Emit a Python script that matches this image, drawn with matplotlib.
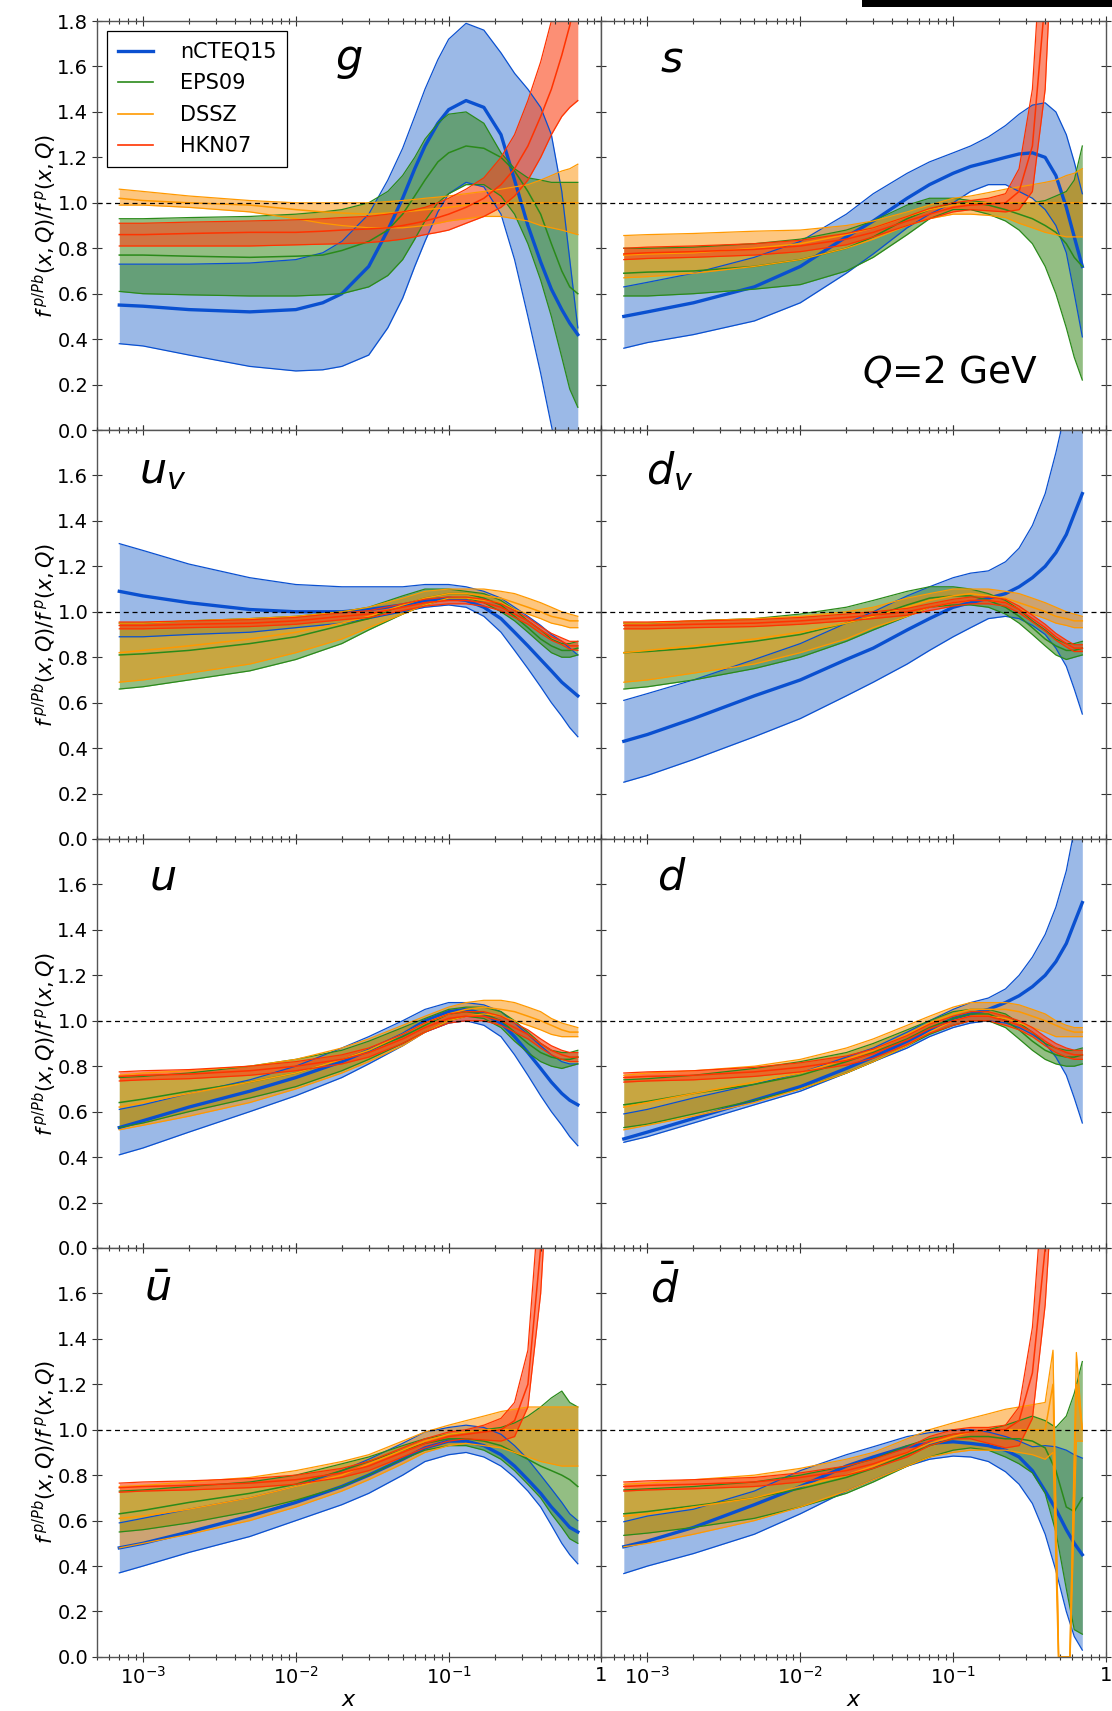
import numpy as np
import matplotlib
matplotlib.use("Agg")
import matplotlib.pyplot as plt
from matplotlib.lines import Line2D
from matplotlib.patches import Rectangle

# --- common x grid ---
X = [7e-4, 1e-3, 2e-3, 5e-3, 1e-2, 2e-2, 3e-2, 5e-2, 7e-2, 0.1,
     0.13, 0.17, 0.22, 0.27, 0.33, 0.4, 0.47, 0.55, 0.62, 0.7]
# the gluon rises steeply, so it gets a finer grid
X_G = [7e-4, 1e-3, 2e-3, 5e-3, 1e-2, 1.5e-2, 2e-2, 3e-2, 4e-2, 5e-2, 6e-2, 7e-2,
       0.085, 0.1, 0.13, 0.17, 0.22, 0.27, 0.33, 0.4, 0.47, 0.55, 0.62, 0.7]
# DSSZ dbar has the jagged high-x part, so it gets its own grid
X_DB_DSSZ = [7e-4, 1e-3, 2e-3, 5e-3, 1e-2, 2e-2, 3e-2, 5e-2, 7e-2, 0.1,
             0.13, 0.17, 0.22, 0.27, 0.33, 0.4, 0.45, 0.49, 0.58, 0.64, 0.7]

# --- g ---
g_ncteq_mid = [.55, .545, .53, .52, .53, .56, .6, .72, .88, 1.02, 1.15, 1.25, 1.35, 1.41, 1.45, 1.42, 1.3, 1.1, .9, .74, .62, .53, .47, .42]
g_ncteq_hi = [.73, .73, .73, .735, .75, .78, .83, .95, 1.1, 1.24, 1.38, 1.5, 1.63, 1.72, 1.79, 1.76, 1.66, 1.57, 1.5, 1.42, 1.3, 1.05, .75, .45]
g_ncteq_lo = [.38, .37, .33, .28, .26, .265, .28, .33, .45, .58, .72, .83, .96, 1.04, 1.09, 1.07, .95, .75, .5, .25, .02, -.2, -.35, -.5]
g_eps_mid = [.77, .77, .765, .76, .765, .77, .79, .83, .88, .95, 1.03, 1.1, 1.18, 1.22, 1.25, 1.24, 1.2, 1.14, 1.05, .95, .82, .7, .63, .6]
g_eps_hi = [.93, .93, .935, .94, .95, .96, .97, 1.0, 1.05, 1.12, 1.2, 1.28, 1.35, 1.39, 1.40, 1.35, 1.22, 1.15, 1.11, 1.1, 1.09, 1.09, 1.09, 1.09]
g_eps_lo = [.61, .60, .595, .59, .59, .595, .60, .63, .68, .75, .84, .92, 1.0, 1.04, 1.08, 1.08, 1.03, .95, .82, .66, .5, .32, .18, .1]
g_dssz_mid = [1.02, 1.01, 1.0, .99, .97, .96, .955, .95, .955, .96, .965, .97, .975, .98, .99, 1.0, 1.0, 1.0, 1.0, 1.0, 1.0, 1.0, 1.0, 1.0]
g_dssz_hi = [1.06, 1.05, 1.03, 1.01, 1.0, 1.0, 1.0, 1.0, 1.005, 1.01, 1.015, 1.02, 1.025, 1.03, 1.04, 1.05, 1.06, 1.07, 1.08, 1.1, 1.12, 1.14, 1.15, 1.17]
g_dssz_lo = [.99, .99, .98, .96, .93, .91, .9, .89, .89, .89, .895, .9, .91, .92, .93, .94, .94, .93, .92, .9, .89, .88, .87, .86]
g_hkn_mid = [.86, .86, .865, .87, .87, .875, .88, .885, .89, .9, .91, .92, .935, .95, .98, 1.02, 1.08, 1.15, 1.25, 1.38, 1.5, 1.65, 1.78, 1.95]
g_hkn_hi = [.91, .91, .915, .92, .925, .93, .935, .94, .95, .96, .97, .98, 1.0, 1.02, 1.06, 1.11, 1.2, 1.3, 1.45, 1.62, 1.8, 2.0, 2.2, 2.4]
g_hkn_lo = [.81, .81, .81, .81, .815, .818, .82, .825, .832, .84, .85, .86, .87, .88, .91, .94, .98, 1.03, 1.1, 1.2, 1.3, 1.38, 1.42, 1.45]

# --- s ---
s_ncteq_mid = [.50, .52, .56, .63, .72, .85, .92, 1.02, 1.08, 1.13, 1.16, 1.18, 1.20, 1.215, 1.22, 1.2, 1.12, .98, .85, .72]
s_ncteq_hi = [.63, .65, .69, .76, .83, .95, 1.04, 1.13, 1.18, 1.22, 1.25, 1.29, 1.34, 1.39, 1.43, 1.44, 1.4, 1.3, 1.18, 1.04]
s_ncteq_lo = [.36, .385, .42, .48, .56, .69, .775, .89, .95, 1.0, 1.05, 1.08, 1.08, 1.05, 1.02, .97, .9, .78, .6, .41]
s_eps_mid = [.69, .695, .70, .72, .75, .80, .85, .93, .97, 1.0, 1.0, .99, .97, .95, .93, .9, .87, .82, .76, .72]
s_eps_hi = [.80, .80, .805, .82, .84, .88, .92, .99, 1.02, 1.02, 1.01, 1.0, 1.0, 1.0, 1.0, 1.01, 1.03, 1.05, 1.1, 1.25]
s_eps_lo = [.59, .59, .6, .62, .64, .7, .76, .86, .93, .97, .97, .95, .92, .88, .82, .72, .6, .45, .32, .22]
s_dssz_mid = [.77, .775, .78, .80, .82, .86, .89, .94, .97, .99, 1.0, 1.0, 1.0, 1.0, 1.0, 1.0, 1.0, 1.0, 1.0, 1.0]
s_dssz_hi = [.856, .86, .865, .875, .88, .9, .92, .96, .99, 1.02, 1.03, 1.045, 1.06, 1.07, 1.08, 1.09, 1.1, 1.12, 1.13, 1.15]
s_dssz_lo = [.67, .675, .69, .72, .75, .8, .84, .9, .93, .95, .95, .945, .935, .91, .89, .87, .86, .85, .85, .85]
s_hkn_mid = [.775, .78, .785, .795, .81, .84, .87, .92, .95, .98, .99, .995, 1.0, 1.05, 1.25, 1.9, 2.6, 3, 3, 3]
s_hkn_hi = [.80, .805, .81, .82, .835, .865, .89, .94, .975, 1.0, 1.01, 1.02, 1.04, 1.15, 1.5, 2.4, 3, 3, 3, 3]
s_hkn_lo = [.75, .755, .76, .77, .785, .815, .85, .9, .93, .96, .97, .965, .96, .97, 1.05, 1.5, 2.5, 3, 3, 3]

# --- u_v ---
uv_ncteq_mid = [1.09, 1.07, 1.04, 1.01, 1.0, 1.0, 1.01, 1.03, 1.05, 1.06, 1.05, 1.02, .97, .91, .85, .79, .74, .69, .66, .63]
uv_ncteq_hi = [1.30, 1.27, 1.21, 1.15, 1.12, 1.11, 1.11, 1.11, 1.12, 1.12, 1.11, 1.09, 1.06, 1.02, .98, .94, .90, .87, .84, .81]
uv_ncteq_lo = [.89, .89, .9, .91, .93, .95, .97, 1.0, 1.02, 1.03, 1.02, .98, .91, .83, .75, .67, .6, .54, .49, .45]
uv_eps_mid = [.81, .815, .83, .86, .89, .94, .97, 1.03, 1.06, 1.08, 1.08, 1.06, 1.03, .98, .93, .88, .85, .83, .83, .84]
uv_eps_hi = [.95, .95, .96, .97, .98, 1.0, 1.02, 1.07, 1.1, 1.1, 1.09, 1.08, 1.05, 1.01, .96, .92, .88, .86, .86, .87]
uv_eps_lo = [.66, .67, .7, .74, .79, .86, .92, .99, 1.03, 1.06, 1.06, 1.04, 1.0, .96, .91, .86, .82, .8, .8, .81]
uv_dssz_mid = [.82, .83, .85, .88, .91, .95, .98, 1.03, 1.06, 1.08, 1.08, 1.07, 1.06, 1.04, 1.02, 1.0, .98, .97, .96, .96]
uv_dssz_hi = [.95, .95, .96, .97, .98, 1.0, 1.02, 1.06, 1.09, 1.1, 1.1, 1.1, 1.09, 1.08, 1.06, 1.04, 1.02, 1.0, .99, .98]
uv_dssz_lo = [.69, .7, .73, .77, .82, .88, .93, .99, 1.03, 1.06, 1.06, 1.05, 1.04, 1.01, .99, .97, .95, .94, .93, .93]
uv_hkn_mid = [.94, .94, .945, .95, .96, .98, .99, 1.02, 1.04, 1.05, 1.05, 1.04, 1.02, .99, .96, .92, .89, .87, .85, .85]
uv_hkn_hi = [.955, .955, .96, .965, .975, .995, 1.005, 1.035, 1.055, 1.065, 1.065, 1.055, 1.035, 1.005, .975, .935, .905, .885, .87, .87]
uv_hkn_lo = [.925, .925, .93, .935, .945, .965, .975, 1.005, 1.025, 1.035, 1.035, 1.025, 1.005, .975, .945, .905, .875, .855, .835, .83]

# --- d_v ---
dv_ncteq_mid = [.43, .46, .53, .63, .70, .79, .84, .92, .97, 1.02, 1.04, 1.06, 1.08, 1.11, 1.15, 1.2, 1.26, 1.34, 1.43, 1.52]
dv_ncteq_hi = [.61, .64, .7, .79, .86, .95, 1.0, 1.07, 1.11, 1.15, 1.17, 1.18, 1.22, 1.28, 1.38, 1.52, 1.7, 1.9, 2.1, 2.3]
dv_ncteq_lo = [.25, .28, .35, .45, .53, .63, .69, .77, .83, .89, .93, .97, .98, .97, .94, .9, .84, .76, .66, .55]
dv_eps_mid = [.82, .825, .84, .87, .9, .95, .98, 1.03, 1.06, 1.07, 1.07, 1.05, 1.02, .98, .93, .88, .85, .83, .83, .84]
dv_eps_hi = [.95, .95, .96, .97, .99, 1.02, 1.05, 1.09, 1.11, 1.11, 1.1, 1.08, 1.05, 1.01, .96, .92, .88, .86, .86, .87]
dv_eps_lo = [.66, .67, .7, .75, .8, .87, .92, .98, 1.02, 1.03, 1.03, 1.02, .99, .95, .9, .85, .81, .79, .8, .81]
dv_dssz_mid = [.82, .83, .85, .88, .91, .95, .98, 1.02, 1.05, 1.07, 1.08, 1.07, 1.06, 1.04, 1.02, 1.0, .98, .97, .96, .96]
dv_dssz_hi = [.95, .95, .96, .97, .98, 1.0, 1.02, 1.06, 1.08, 1.1, 1.1, 1.1, 1.09, 1.08, 1.06, 1.04, 1.02, 1.0, .99, .98]
dv_dssz_lo = [.69, .7, .73, .77, .82, .88, .93, .98, 1.02, 1.04, 1.05, 1.05, 1.04, 1.01, .99, .97, .95, .94, .93, .93]
dv_hkn_mid = [.94, .94, .945, .95, .96, .975, .985, 1.0, 1.02, 1.04, 1.05, 1.05, 1.04, 1.01, .97, .93, .89, .86, .84, .84]
dv_hkn_hi = [.955, .955, .96, .965, .975, .99, 1.0, 1.015, 1.035, 1.055, 1.065, 1.065, 1.055, 1.025, .985, .945, .905, .875, .855, .855]
dv_hkn_lo = [.925, .925, .93, .935, .945, .96, .97, .985, 1.005, 1.025, 1.035, 1.035, 1.025, .995, .955, .915, .875, .845, .825, .825]

# --- u ---
u_ncteq_mid = [.53, .56, .62, .69, .75, .82, .87, .94, 1.0, 1.04, 1.05, 1.03, .99, .93, .86, .79, .73, .68, .65, .63]
u_ncteq_hi = [.61, .63, .68, .74, .8, .88, .93, 1.0, 1.05, 1.08, 1.08, 1.07, 1.04, .99, .94, .89, .85, .82, .81, .81]
u_ncteq_lo = [.41, .44, .51, .6, .67, .75, .81, .89, .95, .99, 1.0, .98, .93, .85, .76, .67, .6, .54, .49, .45]
u_eps_mid = [.64, .655, .69, .73, .77, .83, .87, .93, .98, 1.03, 1.04, 1.03, 1.0, .95, .9, .86, .84, .83, .83, .84]
u_eps_hi = [.75, .755, .77, .8, .83, .87, .91, .97, 1.01, 1.05, 1.06, 1.06, 1.04, 1.0, .95, .9, .87, .86, .86, .87]
u_eps_lo = [.53, .55, .6, .66, .71, .78, .83, .9, .95, 1.0, 1.02, 1.01, .97, .91, .86, .82, .8, .79, .8, .81]
u_dssz_mid = [.62, .64, .68, .73, .77, .83, .87, .94, .99, 1.03, 1.05, 1.06, 1.05, 1.04, 1.02, 1.0, .98, .96, .95, .95]
u_dssz_hi = [.76, .77, .78, .8, .83, .88, .92, .98, 1.02, 1.06, 1.08, 1.09, 1.09, 1.08, 1.06, 1.04, 1.01, .99, .98, .97]
u_dssz_lo = [.52, .54, .58, .64, .7, .77, .82, .89, .95, 1.0, 1.02, 1.03, 1.02, 1.0, .98, .96, .94, .93, .93, .93]
u_hkn_mid = [.755, .76, .765, .78, .8, .83, .86, .92, .97, 1.01, 1.02, 1.02, 1.0, .97, .94, .9, .87, .85, .84, .84]
u_hkn_hi = [.775, .78, .785, .8, .82, .85, .88, .94, .99, 1.03, 1.04, 1.04, 1.02, .99, .96, .92, .89, .87, .86, .86]
u_hkn_lo = [.735, .74, .745, .76, .78, .81, .84, .9, .95, .99, 1.0, 1.0, .98, .95, .92, .88, .85, .83, .82, .82]

# --- d ---
d_ncteq_mid = [.48, .51, .57, .65, .71, .79, .84, .91, .96, 1.01, 1.03, 1.05, 1.08, 1.11, 1.15, 1.2, 1.26, 1.34, 1.43, 1.52]
d_ncteq_hi = [.59, .61, .66, .72, .77, .84, .88, .95, 1.0, 1.05, 1.08, 1.1, 1.14, 1.2, 1.28, 1.38, 1.5, 1.66, 1.84, 2.05]
d_ncteq_lo = [.465, .49, .55, .63, .69, .77, .82, .88, .93, .97, .99, 1.0, .99, .97, .94, .9, .84, .76, .66, .55]
d_eps_mid = [.63, .645, .68, .72, .76, .82, .86, .92, .97, 1.01, 1.03, 1.03, 1.0, .96, .91, .87, .85, .84, .84, .85]
d_eps_hi = [.74, .745, .76, .79, .82, .86, .9, .96, 1.0, 1.04, 1.05, 1.05, 1.03, .99, .95, .9, .88, .87, .87, .88]
d_eps_lo = [.53, .545, .59, .65, .7, .77, .82, .89, .94, .98, 1.0, 1.0, .97, .92, .87, .83, .81, .8, .8, .81]
d_dssz_mid = [.62, .64, .68, .73, .77, .83, .87, .94, .99, 1.03, 1.05, 1.05, 1.05, 1.04, 1.02, 1.0, .98, .96, .95, .95]
d_dssz_hi = [.76, .77, .78, .8, .83, .88, .92, .98, 1.02, 1.06, 1.08, 1.08, 1.08, 1.07, 1.05, 1.03, 1.0, .98, .97, .97]
d_dssz_lo = [.52, .54, .58, .64, .7, .77, .82, .89, .95, 1.0, 1.02, 1.02, 1.01, .99, .97, .95, .93, .93, .93, .93]
d_hkn_mid = [.75, .755, .76, .775, .795, .825, .855, .915, .965, 1.0, 1.02, 1.02, 1.0, .98, .95, .91, .88, .86, .85, .85]
d_hkn_hi = [.77, .775, .78, .795, .815, .845, .875, .935, .985, 1.02, 1.04, 1.04, 1.02, 1.0, .97, .93, .9, .88, .87, .87]
d_hkn_lo = [.73, .735, .74, .755, .775, .805, .835, .895, .945, .98, 1.0, 1.0, .98, .96, .93, .89, .86, .84, .83, .83]

# --- ubar ---
ub_ncteq_mid = [.48, .5, .55, .62, .68, .75, .8, .87, .92, .95, .95, .93, .89, .84, .78, .72, .66, .61, .57, .55]
ub_ncteq_hi = [.59, .61, .65, .7, .75, .82, .87, .94, .99, 1.01, 1.02, 1.01, .98, .93, .87, .8, .74, .68, .63, .6]
ub_ncteq_lo = [.37, .4, .46, .53, .6, .67, .72, .8, .86, .89, .9, .88, .84, .79, .73, .66, .58, .5, .45, .41]
ub_eps_mid = [.63, .645, .68, .72, .76, .82, .86, .91, .94, .96, .96, .95, .93, .9, .87, .84, .82, .8, .78, .75]
ub_eps_hi = [.73, .735, .75, .77, .8, .85, .88, .93, .96, .98, .99, 1.0, 1.01, 1.03, 1.06, 1.1, 1.14, 1.17, 1.12, 1.1]
ub_eps_lo = [.55, .56, .59, .64, .69, .75, .8, .87, .91, .93, .93, .91, .87, .82, .76, .7, .63, .57, .52, .5]
ub_dssz_mid = [.61, .62, .65, .7, .75, .8, .85, .91, .95, .98, .99, 1.0, 1.0, 1.0, 1.0, 1.0, 1.0, 1.0, 1.0, 1.0]
ub_dssz_hi = [.75, .755, .77, .79, .82, .86, .89, .95, .99, 1.02, 1.04, 1.06, 1.08, 1.09, 1.1, 1.1, 1.1, 1.1, 1.1, 1.1]
ub_dssz_lo = [.48, .5, .54, .6, .66, .73, .78, .85, .9, .93, .94, .93, .92, .9, .88, .86, .85, .84, .84, .84]
ub_hkn_mid = [.745, .75, .755, .765, .78, .81, .84, .9, .94, .97, .98, .99, 1.0, 1.04, 1.2, 1.8, 2.6, 3, 3, 3]
ub_hkn_hi = [.765, .77, .775, .785, .8, .83, .86, .92, .96, .99, 1.0, 1.02, 1.05, 1.12, 1.35, 2.1, 3, 3, 3, 3]
ub_hkn_lo = [.725, .73, .735, .745, .76, .79, .82, .88, .92, .95, .96, .955, .95, .97, 1.1, 1.6, 2.4, 3, 3, 3]

# --- dbar ---
db_ncteq_mid = [.485, .51, .57, .67, .75, .84, .88, .925, .94, .947, .94, .93, .91, .88, .82, .73, .65, .56, .5, .45]
db_ncteq_hi = [.595, .62, .65, .73, .82, .89, .925, .97, .987, 1.0, 1.0, .99, .97, .95, .925, .93, .925, .91, .89, .875]
db_ncteq_lo = [.367, .4, .455, .54, .63, .73, .78, .84, .87, .884, .88, .86, .815, .76, .675, .54, .38, .2, .09, .03]
db_eps_mid = [.63, .64, .665, .7, .74, .79, .83, .89, .93, .96, .97, .97, .96, .96, .95, .92, .82, .66, .64, .7]
db_eps_hi = [.735, .74, .75, .77, .8, .84, .87, .93, .96, .98, .99, 1.0, 1.02, 1.04, 1.06, 1.04, 1.01, 1.06, 1.16, 1.3]
db_eps_lo = [.535, .545, .57, .61, .66, .72, .77, .84, .88, .91, .92, .91, .88, .85, .81, .72, .55, .3, .12, .1]
db_dssz_mid = [.62, .63, .66, .7, .75, .8, .84, .9, .94, .97, .99, 1.0, 1.0, 1.0, 1.0, 1.0, 1.2, 0.0, 0.0, 1.2, 1.0]
db_dssz_hi = [.76, .765, .78, .8, .83, .87, .9, .96, 1.0, 1.03, 1.05, 1.07, 1.09, 1.1, 1.11, 1.12, 1.35, 0.0, 0.0, 1.34, 1.0]
db_dssz_lo = [.485, .5, .54, .6, .66, .73, .78, .84, .88, .9, .91, .91, .91, .9, .89, .87, .9, -.05, -.05, .95, .95]
db_hkn_mid = [.75, .755, .76, .77, .79, .82, .85, .9, .95, .98, .99, 1.0, 1.0, 1.04, 1.25, 1.8, 2.6, 3, 3, 3]
db_hkn_hi = [.77, .775, .78, .79, .81, .84, .87, .92, .97, 1.0, 1.01, 1.01, 1.02, 1.1, 1.45, 2.2, 3, 3, 3, 3]
db_hkn_lo = [.73, .735, .74, .75, .77, .8, .83, .88, .93, .96, .96, .94, .92, .93, 1.05, 1.55, 2.3, 3, 3, 3]

SET_NAMES = ["nCTEQ15", "EPS09", "DSSZ", "HKN07"]
LINE_COLORS = ["#0a50d0", "#2a8a1a", "#ff9900", "#ff3300"]
FILL_COLORS = ["#3975d1", "#3a8a1e", "#fd8f00", "#fb4419"]
FILL_ALPHA = [0.5, 0.55, 0.5, 0.6]
MID_LW = [2.4, 1.1, 1.1, 1.1]

panels = [
    ("$g$", (0.50, 0.905), [(X_G, g_ncteq_lo, g_ncteq_mid, g_ncteq_hi), (X_G, g_eps_lo, g_eps_mid, g_eps_hi),
                            (X_G, g_dssz_lo, g_dssz_mid, g_dssz_hi), (X_G, g_hkn_lo, g_hkn_mid, g_hkn_hi)]),
    ("$s$", (0.14, 0.905), [(X, s_ncteq_lo, s_ncteq_mid, s_ncteq_hi), (X, s_eps_lo, s_eps_mid, s_eps_hi),
                            (X, s_dssz_lo, s_dssz_mid, s_dssz_hi), (X, s_hkn_lo, s_hkn_mid, s_hkn_hi)]),
    ("$u_v$", (0.13, 0.90), [(X, uv_ncteq_lo, uv_ncteq_mid, uv_ncteq_hi), (X, uv_eps_lo, uv_eps_mid, uv_eps_hi),
                             (X, uv_dssz_lo, uv_dssz_mid, uv_dssz_hi), (X, uv_hkn_lo, uv_hkn_mid, uv_hkn_hi)]),
    ("$d_v$", (0.135, 0.90), [(X, dv_ncteq_lo, dv_ncteq_mid, dv_ncteq_hi), (X, dv_eps_lo, dv_eps_mid, dv_eps_hi),
                              (X, dv_dssz_lo, dv_dssz_mid, dv_dssz_hi), (X, dv_hkn_lo, dv_hkn_mid, dv_hkn_hi)]),
    ("$u$", (0.13, 0.905), [(X, u_ncteq_lo, u_ncteq_mid, u_ncteq_hi), (X, u_eps_lo, u_eps_mid, u_eps_hi),
                            (X, u_dssz_lo, u_dssz_mid, u_dssz_hi), (X, u_hkn_lo, u_hkn_mid, u_hkn_hi)]),
    ("$d$", (0.14, 0.905), [(X, d_ncteq_lo, d_ncteq_mid, d_ncteq_hi), (X, d_eps_lo, d_eps_mid, d_eps_hi),
                            (X, d_dssz_lo, d_dssz_mid, d_dssz_hi), (X, d_hkn_lo, d_hkn_mid, d_hkn_hi)]),
    (r"$\bar{u}$", (0.12, 0.90), [(X, ub_ncteq_lo, ub_ncteq_mid, ub_ncteq_hi), (X, ub_eps_lo, ub_eps_mid, ub_eps_hi),
                                  (X, ub_dssz_lo, ub_dssz_mid, ub_dssz_hi), (X, ub_hkn_lo, ub_hkn_mid, ub_hkn_hi)]),
    (r"$\bar{d}$", (0.125, 0.90), [(X, db_ncteq_lo, db_ncteq_mid, db_ncteq_hi), (X, db_eps_lo, db_eps_mid, db_eps_hi),
                                   (X_DB_DSSZ, db_dssz_lo, db_dssz_mid, db_dssz_hi), (X, db_hkn_lo, db_hkn_mid, db_hkn_hi)]),
]

fig, axes = plt.subplots(4, 2, figsize=(11.12, 17.11), dpi=100)
plt.subplots_adjust(left=0.0872, right=0.9946, top=0.9877, bottom=0.0316, hspace=0, wspace=0)

yt = [0.0, 0.2, 0.4, 0.6, 0.8, 1.0, 1.2, 1.4, 1.6, 1.8]

for i, (ax, (lab, lpos, bands)) in enumerate(zip(axes.flat, panels)):
    row, col = divmod(i, 2)
    # bands: fill, then edges and central line, set by set
    for k, (xs, lo, mid, hi) in enumerate(bands):
        ax.fill_between(xs, lo, hi, color=FILL_COLORS[k], alpha=FILL_ALPHA[k], lw=0)
        ax.plot(xs, lo, color=LINE_COLORS[k], lw=0.9)
        ax.plot(xs, hi, color=LINE_COLORS[k], lw=0.9)
        ax.plot(xs, mid, color=LINE_COLORS[k], lw=MID_LW[k])
    ax.axhline(1.0, color="black", ls="--", lw=0.9, dashes=(4, 3))

    ax.set_xscale("log")
    ax.set_xlim(5e-4, 1)
    ax.set_ylim(0, 1.8)
    ax.set_yticks(yt)
    if col == 0:
        ylabels = ["%.1f" % v for v in yt]
        if row > 0:
            ylabels[-1] = ""
        ax.set_yticklabels(ylabels, fontsize=14)
        ax.text(-0.103, 0.5, r"$f^{\,p/Pb}(x,Q)/f^{\,p}(x,Q)$", transform=ax.transAxes,
                rotation=90, ha="center", va="center", fontsize=15)
    else:
        ax.set_yticklabels([])
    ax.set_xticks([1e-3, 1e-2, 1e-1, 1])
    if row == 3:
        ax.set_xticklabels(["$10^{-3}$", "$10^{-2}$", "$10^{-1}$", "1"], fontsize=14)
        ax.text(0.5, -0.105, "$x$", transform=ax.transAxes, ha="center", va="center", fontsize=16)
    else:
        ax.set_xticklabels([])
    ax.xaxis.set_minor_formatter(matplotlib.ticker.NullFormatter())
    ax.tick_params(which="both", direction="inout", top=True, right=True, color="#333333", width=0.8)
    ax.tick_params(which="major", length=6.5)
    ax.tick_params(which="minor", length=3.8)
    ax.tick_params(axis="both", pad=3)
    for sp in ax.spines.values():
        sp.set_color("#555555")
        sp.set_linewidth(1.0)

    ax.text(lpos[0], lpos[1], lab, transform=ax.transAxes, ha="center", va="center", fontsize=31)

axes[0, 1].text(0.69, 0.14, "$Q$=2 GeV", transform=axes[0, 1].transAxes,
                ha="center", va="center", fontsize=27)

handles = [Line2D([], [], color=LINE_COLORS[k], lw=MID_LW[k] if k == 0 else 1.2) for k in range(4)]
leg = axes[0, 0].legend(handles, SET_NAMES, loc="upper left", fontsize=15, frameon=True,
                        fancybox=False, edgecolor="black", framealpha=1, labelspacing=0.55,
                        handlelength=1.7, handletextpad=1.3, borderpad=0.5, borderaxespad=0.5)
leg.get_frame().set_linewidth(0.9)

# black strip at the top right, as in the cropped original
fig.add_artist(Rectangle((862 / 1112, 1 - 7 / 1711), 1, 7 / 1711, transform=fig.transFigure,
                         color="black", lw=0))

fig.savefig("out.png", dpi=100)
